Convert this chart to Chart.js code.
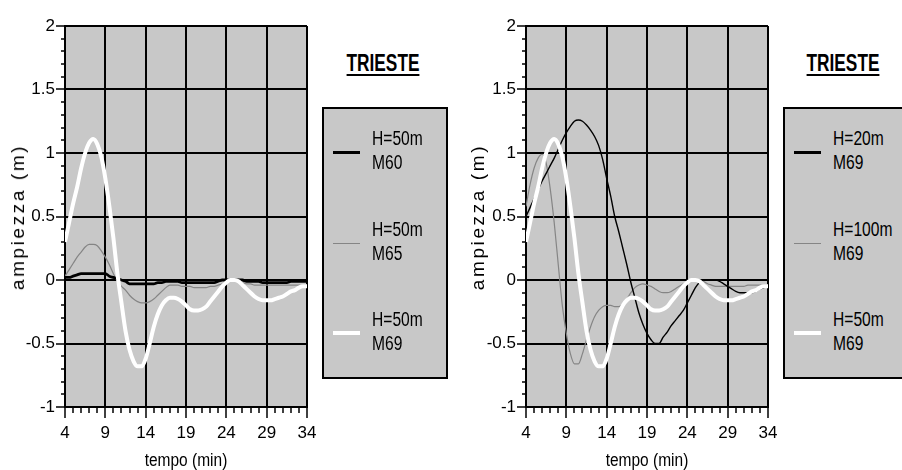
<!DOCTYPE html>
<html><head><meta charset="utf-8">
<script src="https://cdn.jsdelivr.net/npm/chart.js@4.4.0/dist/chart.umd.min.js"></script>
<style>
body{margin:0;width:902px;height:470px;background:#fff;position:relative;overflow:hidden;font-family:"Liberation Sans",Arial,sans-serif;color:#000}
.cv{position:absolute;top:0;width:320px;height:470px}
.ytitle{position:absolute;white-space:nowrap;font-size:19px;letter-spacing:2.6px;transform:translate(-50%,-50%) rotate(-90deg)}
.xtitle{position:absolute;white-space:nowrap;font-size:18px;line-height:20px;transform:translate(-50%,-50%) scaleX(0.86)}
.ttl{position:absolute;top:50px;font-weight:bold;font-size:23px;line-height:26px;text-decoration:underline;text-decoration-thickness:2px;text-underline-offset:3px;transform:translateX(-50%) scaleX(0.75);white-space:nowrap}
.lbox{position:absolute;top:107px;height:272px;background:#c8c8c8;border:2px solid #000;box-sizing:border-box}
.sw{position:absolute;width:27px}
.lt{position:absolute;font-size:20px;line-height:24px;white-space:nowrap;transform:scaleX(0.78);transform-origin:left center}
</style></head>
<body>
<div class="cv" style="left:0"><canvas id="c1" width="320" height="470"></canvas></div>
<div class="cv" style="left:460px"><canvas id="c2" width="320" height="470"></canvas></div>
<div id="overlay"></div>
<script>
// ---- data ----
const minutes = [4,4.5,5,5.5,6,6.5,7,7.5,8,8.5,9,9.5,10,10.5,11,11.5,12,12.5,13,13.5,14,14.5,15,15.5,16,16.5,17,17.5,18,18.5,19,19.5,20,20.5,21,21.5,22,22.5,23,23.5,24,24.5,25,25.5,26,26.5,27,27.5,28,28.5,29,29.5,30,30.5,31,31.5,32,32.5,33,33.5,34];
const h50m69 = [0.30,0.45,0.60,0.73,0.88,1.00,1.08,1.11,1.07,0.97,0.80,0.58,0.33,0.05,-0.18,-0.40,-0.55,-0.64,-0.68,-0.68,-0.62,-0.50,-0.37,-0.27,-0.20,-0.16,-0.14,-0.14,-0.15,-0.17,-0.20,-0.23,-0.24,-0.24,-0.23,-0.21,-0.17,-0.13,-0.09,-0.05,-0.02,0.00,0.00,-0.01,-0.04,-0.07,-0.10,-0.13,-0.15,-0.16,-0.16,-0.16,-0.15,-0.14,-0.13,-0.11,-0.09,-0.08,-0.06,-0.05,-0.05];
const h50m65 = [0.03,0.08,0.13,0.18,0.22,0.26,0.28,0.28,0.27,0.23,0.18,0.12,0.05,-0.01,-0.05,-0.08,-0.12,-0.15,-0.17,-0.18,-0.18,-0.17,-0.15,-0.12,-0.09,-0.06,-0.04,-0.04,-0.04,-0.05,-0.05,-0.05,-0.06,-0.06,-0.06,-0.06,-0.05,-0.05,-0.04,-0.03,-0.01,0.00,0.00,-0.01,-0.02,-0.03,-0.03,-0.04,-0.04,-0.04,-0.04,-0.04,-0.04,-0.04,-0.04,-0.04,-0.04,-0.04,-0.04,-0.04,-0.04];
const h50m60 = [0.02,0.02,0.03,0.04,0.05,0.05,0.05,0.05,0.05,0.05,0.05,0.03,0.02,0.01,0.00,-0.01,-0.03,-0.03,-0.03,-0.03,-0.03,-0.03,-0.03,-0.02,-0.02,-0.01,-0.01,-0.01,-0.01,-0.02,-0.02,-0.02,-0.02,-0.02,-0.02,-0.02,-0.02,-0.02,-0.01,0.00,0.00,0.00,0.00,0.00,0.00,-0.01,-0.01,-0.01,-0.01,-0.02,-0.02,-0.02,-0.02,-0.02,-0.02,-0.02,-0.01,-0.01,-0.01,-0.01,-0.01];
const h20m69 = [0.50,0.57,0.64,0.71,0.78,0.84,0.90,0.96,1.03,1.10,1.16,1.21,1.25,1.26,1.25,1.22,1.18,1.13,1.06,0.95,0.80,0.66,0.50,0.38,0.25,0.12,-0.02,-0.14,-0.26,-0.35,-0.42,-0.47,-0.50,-0.50,-0.45,-0.41,-0.36,-0.32,-0.28,-0.24,-0.18,-0.12,-0.06,-0.02,0.00,0.00,0.00,0.00,-0.01,-0.03,-0.05,-0.07,-0.09,-0.10,-0.10,-0.10,-0.10,-0.09,-0.07,-0.06,-0.05];
const h100m69 = [0.58,0.75,0.88,0.96,0.99,0.92,0.72,0.45,0.12,-0.20,-0.42,-0.58,-0.66,-0.66,-0.58,-0.47,-0.37,-0.29,-0.24,-0.21,-0.20,-0.20,-0.21,-0.21,-0.19,-0.15,-0.10,-0.06,-0.04,-0.03,-0.04,-0.05,-0.07,-0.09,-0.10,-0.10,-0.09,-0.07,-0.05,-0.03,-0.02,-0.01,0.00,0.00,-0.01,-0.03,-0.04,-0.05,-0.05,-0.05,-0.05,-0.05,-0.05,-0.05,-0.05,-0.04,-0.04,-0.04,-0.04,-0.04,-0.04];
const xTicks = [4,9,14,19,24,29,34];
const yTicks = [-1,-0.5,0,0.5,1,1.5,2];
const chartTitle = 'TRIESTE';
const xTitle = 'tempo (min)';
const yTitle = 'ampiezza (m)';
const leftLabels = [['H=50m','M60'],['H=50m','M65'],['H=50m','M69']];
const rightLabels = [['H=20m','M69'],['H=100m','M69'],['H=50m','M69']];

// ---- styles ----
const FONT = "'Liberation Sans',Arial,sans-serif";
const PLOT_BG = '#c8c8c8';
const styles = {
  black:{color:'#000000', width:2.8, order:1},
  thin:{color:'#000000', width:1.4, order:1},
  gray:{color:'#858585', width:1.2, order:2},
  white:{color:'#ffffff', width:4, order:0}
};

function ds(label, values, st){
  const s = styles[st];
  return {label, data: minutes.map((t,i)=>({x:t,y:values[i]})), borderColor:s.color, borderWidth:s.width,
    order:s.order, pointRadius:0, fill:false, cubicInterpolationMode:'monotone'};
}

const decor = {
  id:'decor',
  beforeDraw(chart){
    const {ctx, chartArea:a} = chart;
    ctx.save(); ctx.fillStyle = PLOT_BG;
    ctx.fillRect(a.left, a.top, a.right-a.left, a.bottom-a.top);
    ctx.restore();
  },
  afterDraw(chart){
    const {ctx, chartArea:a, scales:{x,y}} = chart;
    ctx.save(); ctx.strokeStyle='#000'; ctx.lineWidth=1.5;
    for(let i=-10;i<=20;i++){
      const py = Math.round(y.getPixelForValue(i/10));
      const len = (i%5===0)?9:4;
      ctx.beginPath(); ctx.moveTo(a.left-len,py); ctx.lineTo(a.left,py); ctx.stroke();
    }
    for(let m=4;m<=34;m++){
      const px = Math.round(x.getPixelForValue(m));
      const len = ((m-4)%5===0)?11:6;
      ctx.beginPath(); ctx.moveTo(px,a.bottom); ctx.lineTo(px,a.bottom+len); ctx.stroke();
    }
    ctx.restore();
  }
};

function makeChart(id, datasets, yWidth, padRight){
  return new Chart(document.getElementById(id), {
    type:'line',
    data:{datasets},
    plugins:[decor],
    options:{
      responsive:false, animation:false, devicePixelRatio:1,
      layout:{padding:{top:26, right:padRight, left:0, bottom:0}},
      plugins:{legend:{display:false}, tooltip:{enabled:false}},
      scales:{
        x:{type:'linear', min:4, max:34, z:1,
          afterBuildTicks:s=>{s.ticks = xTicks.map(v=>({value:v}));},
          afterFit:s=>{s.height = 63; s.paddingLeft = 0; s.paddingRight = 0;},
          grid:{color:'#000', lineWidth:2, drawTicks:false},
          border:{color:'#000', width:2},
          ticks:{color:'#000', padding:16, maxRotation:0, autoSkip:false, font:{family:FONT, size:17}, callback:v=>String(v)}
        },
        y:{type:'linear', min:-1, max:2,
          afterBuildTicks:s=>{s.ticks = yTicks.map(v=>({value:v}));},
          afterFit:s=>{s.width = yWidth; s.paddingTop = 0; s.paddingBottom = 0;},
          grid:{color:'#000', lineWidth:2, drawTicks:false},
          border:{color:'#000', width:2},
          ticks:{color:'#000', padding:10, autoSkip:false, font:{family:FONT, size:17}, callback:v=>String(v)}
        }
      }
    }
  });
}

const ch1 = makeChart('c1', [
  ds(leftLabels[0].join(' '), h50m60, 'black'),
  ds(leftLabels[1].join(' '), h50m65, 'gray'),
  ds(leftLabels[2].join(' '), h50m69, 'white')
], 65, 13);
const ch2 = makeChart('c2', [
  ds(rightLabels[0].join(' '), h20m69, 'thin'),
  ds(rightLabels[1].join(' '), h100m69, 'gray'),
  ds(rightLabels[2].join(' '), h50m69, 'white')
], 66, 12);

// ---- titles and legends (HTML text) ----
const ov = document.getElementById('overlay');
function addEl(cls, css, text){
  const d = document.createElement('div'); d.className = cls; d.style.cssText = css;
  if (text !== undefined) d.textContent = text; ov.appendChild(d); return d;
}
function axisTitles(chart, offsetX){
  const a = chart.chartArea;
  addEl('ytitle', 'left:'+(offsetX+18)+'px;top:'+((a.top+a.bottom)/2)+'px', yTitle);
  addEl('xtitle', 'left:'+(offsetX+(a.left+a.right)/2)+'px;top:460px', xTitle);
}
axisTitles(ch1, 0);
axisTitles(ch2, 460);
function legend(boxLeft, boxWidth, titleX, labels, swStyles){
  addEl('ttl', 'left:'+titleX+'px', chartTitle);
  addEl('lbox', 'left:'+boxLeft+'px;width:'+boxWidth+'px');
  const rowY = [152, 243, 333];
  labels.forEach((lab, i)=>{
    const s = styles[swStyles[i]];
    const h = Math.max(1, Math.round(s.width));
    addEl('sw', 'left:'+(boxLeft+11)+'px;top:'+(rowY[i]-h/2)+'px;height:'+h+'px;background:'+s.color);
    addEl('lt', 'left:'+(boxLeft+50)+'px;top:'+(rowY[i]-26)+'px', lab[0]);
    addEl('lt', 'left:'+(boxLeft+50)+'px;top:'+(rowY[i]-2)+'px', lab[1]);
  });
}
legend(322, 126, 383, leftLabels, ['black','gray','white']);
legend(783, 130, 843, rightLabels, ['black','gray','white']);
</script>
</body></html>
